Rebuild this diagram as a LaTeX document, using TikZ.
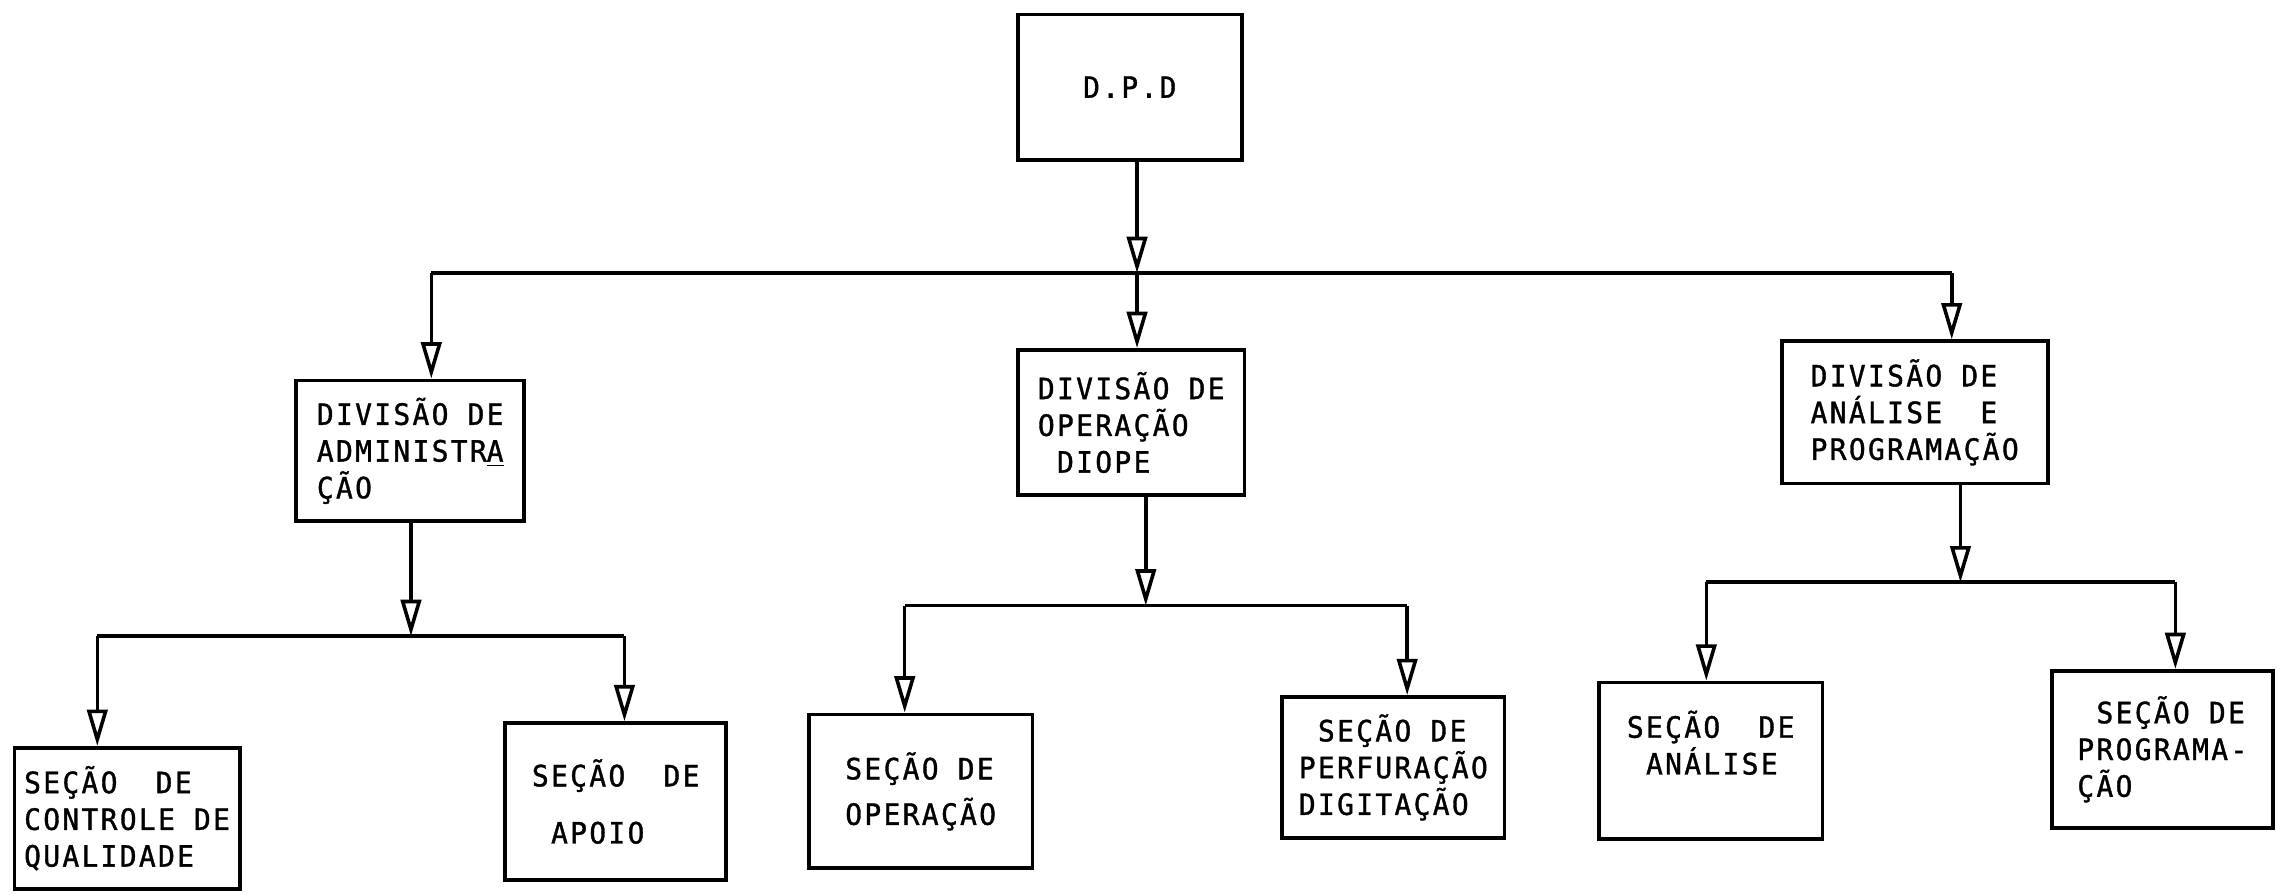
\documentclass[tikz,border=0pt]{standalone}
\usepackage{fontspec}
\setmonofont[LetterSpace=8,FakeStretch=0.95,FakeBold=1.2]{DejaVu Sans Mono}
\usetikzlibrary{arrows.meta}

\begin{document}
\begin{tikzpicture}[x=0.2mm,y=-0.2mm,
  box/.style={draw,line width=1.5pt,align=left,inner sep=0.5mm,
    font=\ttfamily\fontsize{11.5}{14.4}\selectfont},
  arr/.style={line width=1.4pt,-{Triangle[open,length=5mm,width=2.8mm]}},
  bus/.style={line width=1.5pt}]
  \useasboundingbox (0,0) rectangle (1568,616);

  %% top
  \node[box,minimum width=30.8mm,minimum height=20mm] (dpd) at (778,60) {D.P.D};

  %% divisions
  \node[box,minimum width=31.4mm,minimum height=19.4mm] (adm) at (282.5,310.5)
    {DIVISÃO DE\\ADMINISTR\underline{A}\\ÇÃO};
  \node[box,minimum width=31.2mm,minimum height=20mm] (ope) at (779,291)
    {DIVISÃO DE\\OPERAÇÃO\\~DIOPE};
  \node[box,minimum width=36.6mm,minimum height=19.6mm] (dap) at (1318.5,284)
    {DIVISÃO DE\\ANÁLISE~~E\\PROGRAMAÇÃO};

  %% sections
  \node[box,minimum width=31mm,minimum height=19.4mm] (sqc) at (87.5,563.5)
    {SEÇÃO~~DE\\CONTROLE DE\\QUALIDADE};
  \node[box,minimum width=30.4mm,minimum height=21.6mm] (sap) at (424,552)
    {SEÇÃO~~DE\\[2.8mm]~APOIO};
  \node[box,minimum width=30.8mm,minimum height=21.2mm] (sop) at (634,545)
    {SEÇÃO DE\\[1.2mm]OPERAÇÃO};
  \node[box,minimum width=30.6mm,minimum height=19.4mm] (spd) at (959.5,528.5)
    {~SEÇÃO DE\\PERFURAÇÃO\\DIGITAÇÃO};
  \node[box,minimum width=30.8mm,minimum height=21.6mm] (san) at (1178,524)
    {SEÇÃO~~DE\\~ANÁLISE\\~};
  \node[box,minimum width=30.4mm,minimum height=21.6mm] (spg) at (1489,516)
    {~SEÇÃO DE\\PROGRAMA-\\ÇÃO};

  %% bus points
  \coordinate (b1a) at (297,188);
  \coordinate (b1m) at (783,188);
  \coordinate (b1c) at (1344,188);
  \coordinate (b2a) at (67,438);
  \coordinate (b2m) at (283,438);
  \coordinate (b2b) at (430,438);
  \coordinate (b3a) at (623,417);
  \coordinate (b3m) at (789,417);
  \coordinate (b3b) at (969,417);
  \coordinate (b4a) at (1175,401);
  \coordinate (b4m) at (1350,401);
  \coordinate (b4b) at (1498,401);

  %% D.P.D -> divisions
  \draw[arr] (dpd.south -| b1m) -- (b1m);
  \draw[bus] (b1a) -- (b1c);
  \draw[arr] (b1a) -- (b1a |- adm.north);
  \draw[arr] (b1m) -- (b1m |- ope.north);
  \draw[arr] (b1c) -- (b1c |- dap.north);

  %% administracao
  \draw[arr] (adm.south -| b2m) -- (b2m);
  \draw[bus] (b2a) -- (b2b);
  \draw[arr] (b2a) -- (b2a |- sqc.north);
  \draw[arr] (b2b) -- (b2b |- sap.north);

  %% operacao
  \draw[arr] (ope.south -| b3m) -- (b3m);
  \draw[bus] (b3a) -- (b3b);
  \draw[arr] (b3a) -- (b3a |- sop.north);
  \draw[arr] (b3b) -- (b3b |- spd.north);

  %% analise e programacao
  \draw[arr] (dap.south -| b4m) -- (b4m);
  \draw[bus] (b4a) -- (b4b);
  \draw[arr] (b4a) -- (b4a |- san.north);
  \draw[arr] (b4b) -- (b4b |- spg.north);
\end{tikzpicture}
\end{document}
